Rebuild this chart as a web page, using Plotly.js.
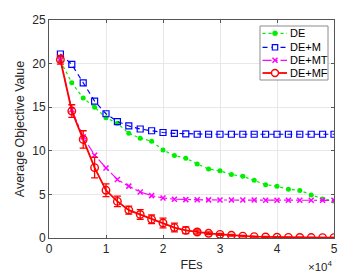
<!DOCTYPE html>
<html>
<head>
<meta charset="utf-8">
<script src="https://cdn.plot.ly/plotly-3.0.1.min.js"></script>
<style>html,body{margin:0;padding:0;background:#fff;}#chart{width:359px;height:273px;}</style>
</head>
<body>
<div id="chart"></div>
<script>
const fes = [2000,4000,6000,8000,10000,12000,14000,16000,18000,20000,22000,24000,26000,28000,30000,32000,34000,36000,38000,40000,42000,44000,46000,48000,50000];
const deVals = [20.3,17.8,16.05,15.0,13.8,13.15,12.0,11.45,11.1,10.1,9.45,9.15,8.5,7.9,7.7,7.27,7.08,6.63,6.12,5.93,5.6,5.45,4.92,4.48,4.25];
const demVals = [21.1,19.9,17.8,15.7,14.25,13.35,12.85,12.5,12.3,12.1,12.0,11.95,11.9,11.9,11.9,11.9,11.9,11.9,11.9,11.9,11.9,11.9,11.9,11.9,11.9];
const demtVals = [20.4,14.7,11.6,9.5,8.03,6.7,5.95,5.27,4.86,4.59,4.45,4.4,4.38,4.37,4.36,4.35,4.35,4.35,4.34,4.34,4.33,4.33,4.33,4.32,4.32];
const demfVals = [20.45,14.56,11.3,8.07,5.47,4.2,3.2,2.7,2.14,1.72,1.2,0.88,0.69,0.54,0.42,0.31,0.22,0.16,0.12,0.09,0.07,0.06,0.05,0.04,0.04];
const demfErr = [0.5,0.72,1.0,1.17,0.73,0.6,0.46,0.55,0.5,0.55,0.5,0.38,0.23,0.15,0.12,0.1,0.08,0.06,0.05,0.04,0.03,0.03,0.03,0.02,0.02];
const seriesNames = ['DE','DE+M','DE+MT','DE+MF'];
const xTickVals = [0,10000,20000,30000,40000,50000];
const xTickText = ['0','1','2','3','4','5'];
const yTickVals = [0,5,10,15,20,25];

const font = 'Liberation Sans, Arial, Helvetica, sans-serif';
const colors = ['#00ee00','#0000ff','#ff00ff','#ff0000'];
const dashes = ['dot','5px,4px','dashdot','solid'];

const traces = [
  {x: fes, y: deVals, name: seriesNames[0], mode: 'lines+markers', showlegend: false,
   line: {color: colors[0], width: 1.2, dash: dashes[0]},
   marker: {symbol: 'circle', size: 5, color: colors[0]}},
  {x: fes, y: demVals, name: seriesNames[1], mode: 'lines+markers', showlegend: false,
   line: {color: colors[1], width: 1.2, dash: dashes[1]},
   marker: {symbol: 'square-open', size: 6, color: colors[1], line: {width: 1.2}}},
  {x: fes, y: demtVals, name: seriesNames[2], mode: 'lines+markers', showlegend: false,
   line: {color: colors[2], width: 1.2, dash: dashes[2]},
   marker: {symbol: 'x-thin-open', size: 5, color: colors[2], line: {width: 1.5, color: colors[2]}}},
  {x: fes, y: demfVals, name: seriesNames[3], mode: 'lines+markers', showlegend: false,
   line: {color: colors[3], width: 1.8},
   marker: {symbol: 'circle-open', size: 7.5, color: colors[3], line: {width: 1.4}},
   error_y: {type: 'data', array: demfErr, visible: true, color: colors[3], thickness: 1.3, width: 3.5}},
  // invisible trace that activates the pixel-unit overlay axes used by the legend
  {x: [49], y: [238], xaxis: 'x2', yaxis: 'y2', mode: 'markers', showlegend: false, hoverinfo: 'skip',
   marker: {size: 1, opacity: 0}}
];

// custom compact legend, drawn on an overlay axis measured in pixels
const legRowY = [33.3, 47.3, 60.3, 73.0];
const legBox = {x0: 260, x1: 328, y0: 26, y1: 80};
const legLineX = [262.5, 287];
const mx = 275;
const legTextX = 289;

const shapes = [{type: 'rect', xref: 'x2', yref: 'y2', x0: legBox.x0, x1: legBox.x1, y0: legBox.y0, y1: legBox.y1,
  line: {color: '#8c8c8c', width: 1}, fillcolor: '#ffffff', layer: 'above'}];
const annotations = [];
seriesNames.forEach((n, i) => {
  const y = legRowY[i];
  shapes.push({type: 'line', xref: 'x2', yref: 'y2', x0: legLineX[0], x1: legLineX[1], y0: y, y1: y,
    line: {color: colors[i], width: i === 3 ? 1.8 : 1.2, dash: dashes[i]}, layer: 'above'});
  annotations.push({xref: 'x2', yref: 'y2', x: legTextX, y: y, xanchor: 'left', yanchor: 'middle',
    text: n, showarrow: false, borderpad: 0, font: {family: font, size: 11, color: '#000'}});
});
// legend marker glyphs
shapes.push({type: 'circle', xref: 'x2', yref: 'y2', x0: mx - 2.5, x1: mx + 2.5, y0: legRowY[0] - 2.5, y1: legRowY[0] + 2.5,
  line: {color: colors[0], width: 0.5}, fillcolor: colors[0], layer: 'above'});
shapes.push({type: 'rect', xref: 'x2', yref: 'y2', x0: mx - 2.7, x1: mx + 2.7, y0: legRowY[1] - 2.7, y1: legRowY[1] + 2.7,
  line: {color: colors[1], width: 1.2}, fillcolor: '#ffffff', layer: 'above'});
shapes.push({type: 'path', xref: 'x2', yref: 'y2',
  path: `M${mx-2.5},${legRowY[2]-2.5}L${mx+2.5},${legRowY[2]+2.5}M${mx-2.5},${legRowY[2]+2.5}L${mx+2.5},${legRowY[2]-2.5}`,
  line: {color: colors[2], width: 1.5}, layer: 'above'});
shapes.push({type: 'circle', xref: 'x2', yref: 'y2', x0: mx - 3.5, x1: mx + 3.5, y0: legRowY[3] - 3.5, y1: legRowY[3] + 3.5,
  line: {color: colors[3], width: 1.4}, fillcolor: '#ffffff', layer: 'above'});

annotations.push({xref: 'paper', yref: 'paper', x: 1.0, y: -0.128, xanchor: 'right', yanchor: 'middle', borderpad: 0,
  text: '×10<sup>4</sup>', showarrow: false, font: {family: font, size: 11.5, color: '#262626'}});

const layout = {
  width: 359, height: 273,
  margin: {l: 49, r: 25, t: 20, b: 35},
  paper_bgcolor: '#fff', plot_bgcolor: '#fff',
  font: {family: font, size: 12, color: '#262626'},
  showlegend: false,
  xaxis: {range: [0, 50000], tickvals: xTickVals, ticktext: xTickText,
    showgrid: true, gridcolor: '#e8e8e8', zeroline: false,
    showline: true, linecolor: '#555', linewidth: 1, mirror: 'ticks',
    ticks: 'inside', ticklen: 3, tickcolor: '#555',
    tickfont: {family: font, size: 12, color: '#262626'},
    title: {text: 'FEs', font: {family: font, size: 12.5, color: '#262626'}, standoff: 4}},
  yaxis: {range: [0, 25], tickvals: yTickVals,
    showgrid: true, gridcolor: '#e8e8e8', zeroline: false,
    showline: true, linecolor: '#555', linewidth: 1, mirror: 'ticks',
    ticks: 'inside', ticklen: 3, tickcolor: '#555',
    tickfont: {family: font, size: 12, color: '#262626'},
    title: {text: 'Average Objective Value', font: {family: font, size: 12.5, color: '#262626'}, standoff: 4}},
  xaxis2: {overlaying: 'x', range: [49, 334], visible: false, showgrid: false, zeroline: false},
  yaxis2: {overlaying: 'y', range: [238, 20], visible: false, showgrid: false, zeroline: false},
  shapes: shapes,
  annotations: annotations
};
Plotly.newPlot('chart', traces, layout, {displayModeBar: false, staticPlot: true});
</script>
</body>
</html>
